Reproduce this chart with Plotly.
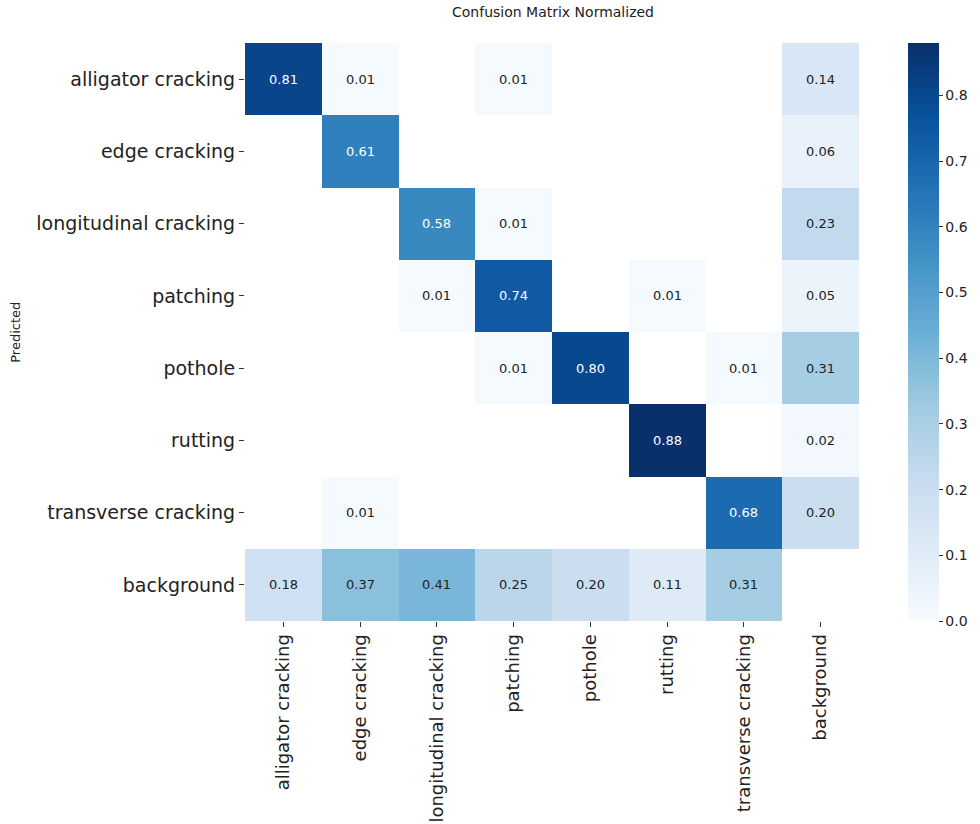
import plotly.graph_objects as go

# Class names (rows = predicted, columns = true)
classes = [
    "alligator cracking", "edge cracking", "longitudinal cracking", "patching",
    "pothole", "rutting", "transverse cracking", "background",
]

# Normalized confusion matrix; None marks empty cells
row_alligator = [0.81, 0.01, None, 0.01, None, None, None, 0.14]
row_edge = [None, 0.61, None, None, None, None, None, 0.06]
row_longitudinal = [None, None, 0.58, 0.01, None, None, None, 0.23]
row_patching = [None, None, 0.01, 0.74, None, 0.01, None, 0.05]
row_pothole = [None, None, None, 0.01, 0.80, None, 0.01, 0.31]
row_rutting = [None, None, None, None, None, 0.88, None, 0.02]
row_transverse = [None, 0.01, None, None, None, None, 0.68, 0.20]
row_background = [0.18, 0.37, 0.41, 0.25, 0.20, 0.11, 0.31, None]

matrix = [row_alligator, row_edge, row_longitudinal, row_patching,
          row_pothole, row_rutting, row_transverse, row_background]

colorbar_ticks = [0.0, 0.1, 0.2, 0.3, 0.4, 0.5, 0.6, 0.7, 0.8]

FONT = "DejaVu Sans"

fig = go.Figure(
    go.Heatmap(
        z=matrix,
        x=classes,
        y=classes,
        colorscale="Blues",
        zmin=0.0,
        zmax=0.88,
        xgap=0,
        ygap=0,
        hoverongaps=False,
        colorbar=dict(
            thickness=31,
            len=1.0,
            lenmode="fraction",
            y=0.5,
            yanchor="middle",
            x=1.0795,
            xanchor="left",
            ypad=0,
            xpad=0,
            outlinewidth=0,
            ticks="outside",
            ticklen=4,
            tickwidth=1,
            tickcolor="#333",
            tickvals=colorbar_ticks,
            tickformat=".1f",
            tickfont=dict(family=FONT, size=14, color="#222"),
        ),
    )
)

# Cell value labels
annotations = []
for i, row in enumerate(matrix):
    for j, v in enumerate(row):
        if v is None:
            continue
        annotations.append(dict(
            x=classes[j], y=classes[i], text=f"{v:.2f}", showarrow=False,
            font=dict(family=FONT, size=13, color="white" if v > 0.5 else "#222"),
        ))

annotations.append(dict(
    text="Predicted", xref="paper", yref="paper", x=-0.375, y=0.5,
    textangle=-90, showarrow=False, xanchor="center", yanchor="middle",
    font=dict(family=FONT, size=13, color="#222"),
))

fig.update_layout(
    width=980,
    height=824,
    margin=dict(l=245, r=119, t=43, b=203),
    paper_bgcolor="white",
    plot_bgcolor="white",
    title=dict(
        text="Confusion Matrix Normalized",
        x=0.5 * (245 + 861) / 980,
        xanchor="center",
        y=1 - 12 / 824,
        yanchor="middle",
        font=dict(family=FONT, size=14, color="#222"),
    ),
    annotations=annotations,
    xaxis=dict(
        side="bottom",
        tickangle=-90,
        ticks="outside",
        ticklen=5,
        tickcolor="#333",
        tickfont=dict(family=FONT, size=18, color="#222"),
        showgrid=False,
        zeroline=False,
        showline=False,
        automargin=False,
    ),
    yaxis=dict(
        autorange="reversed",
        ticks="outside",
        ticklen=5,
        tickcolor="#333",
        tickfont=dict(family=FONT, size=19, color="#222"),
        showgrid=False,
        zeroline=False,
        showline=False,
        automargin=False,
    ),
)

fig.write_html("out.html")
